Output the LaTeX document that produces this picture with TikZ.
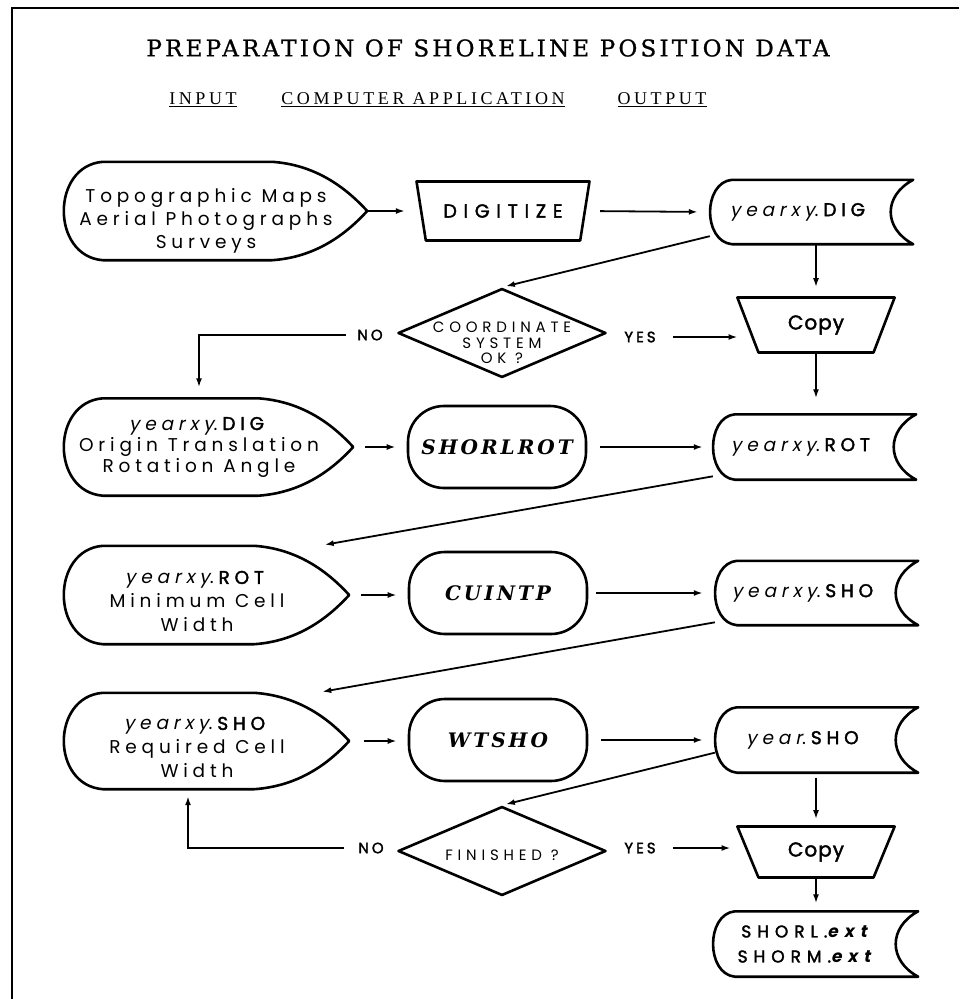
\documentclass[tikz,border=0pt]{standalone}
\usepackage{fontspec}
\setmainfont{Poppins}[AutoFakeSlant=0.2,AutoFakeBold=2]
\newfontfamily\txtfont{Poppins}[LetterSpace=26,AutoFakeSlant=0.2,AutoFakeBold=2]
\newfontfamily\capfont{Poppins}[LetterSpace=35,AutoFakeBold=2]
\newfontfamily\extfont{Poppins}[LetterSpace=35,FakeSlant=0.2]
\newfontfamily\copyfont{Poppins}[LetterSpace=5,AutoFakeBold=2]
\newfontfamily\decfont{Poppins}[LetterSpace=32]
\newfontfamily\ansfont{Poppins}[LetterSpace=20,AutoFakeBold=2]
\newfontfamily\titlefont{DejaVu Serif}[LetterSpace=14,FakeBold=1]
\newfontfamily\headfont{Liberation Serif}[LetterSpace=20]
\newfontfamily\progfont{DejaVu Serif}[LetterSpace=15]
\usetikzlibrary{shapes.geometric,arrows.meta,calc}

\begin{document}
\begin{tikzpicture}[x=1pt,y=-1pt,
  outline/.style={line width=2.6pt,line join=round},
  conn/.style={line width=1.8pt,-{Latex[length=9pt,width=6pt]}},
  inform/.style={minimum width=272,minimum height=97,inner sep=0pt,align=center,
    font=\txtfont\fontsize{18.5}{23}\selectfont},
  outform/.style={minimum width=180,minimum height=64,inner sep=0pt,align=center,
    font=\txtfont\fontsize{18.5}{25}\selectfont},
  program/.style={draw,outline,rounded corners=36pt,minimum width=178,minimum height=82,
    inner sep=0pt,font=\progfont\bfseries\itshape\fontsize{20}{24}\selectfont},
  manual/.style={draw,outline,trapezium,trapezium left angle=118,trapezium right angle=118,
    trapezium stretches=true,inner sep=0pt,font=\capfont\bfseries\fontsize{19}{20}\selectfont},
  decision/.style={draw,outline,diamond,minimum width=208,minimum height=89,inner sep=0pt},
  dectext/.style={align=center,font=\decfont\fontsize{15}{15.5}\selectfont},
  answer/.style={inner sep=3pt,font=\ansfont\bfseries\fontsize{15}{16}\selectfont},
  heading/.style={font=\headfont\fontsize{18}{20}\selectfont}]
%\draw[step=50,gray,very thin] (0,0) grid (959,999);
\useasboundingbox (0,0) rectangle (959,999);
\draw[line width=2pt] (959,8) -- (12,8) -- (12,999);
\node[font=\titlefont\fontsize{23}{26}\selectfont] (title) at (488,48) {PREPARATION OF SHORELINE POSITION DATA};
\node[heading] (hin) at (203,100) {\underline{INPUT}};
\node[heading] (happ) at (423,100) {\underline{COMPUTER APPLICATION}};
\node[heading] (hout) at (662,100) {\underline{OUTPUT}};

\node[inform,minimum width=286,minimum height=98,text height=80pt] (in1) at (206,211) {Topographic Maps\\Aerial Photographs\\Surveys};
\node[manual,minimum width=173,minimum height=59] (digit) at (503,211) {DIGITIZE};
\node[outform] (dig) at (800,212) {{\itshape yearxy}.\textbf{DIG}};
\node[manual,minimum width=158,minimum height=55,font=\copyfont\bfseries\fontsize{20}{20}\selectfont] (copy1) at (816,325) {Copy};
\node[decision,label={[dectext,yshift=-10pt]center:{COORDINATE\\SYSTEM\\OK ?}}] (coord) at (502,333) {};
\node[answer] (no1) at (370,335) {NO};
\node[answer] (yes1) at (640,337) {YES};

\node[inform,font=\txtfont\fontsize{18.5}{21}\selectfont] (in2) at (199,447) {{\itshape yearxy}.\textbf{DIG}\\Origin Translation\\Rotation Angle};
\node[program] (shorlrot) at (497,447) {SHORLROT};
\node[outform,minimum height=65] (rot) at (803,447) {{\itshape yearxy}.\textbf{ROT}};

\node[inform,minimum width=268,minimum height=98,font=\txtfont\fontsize{18.5}{24}\selectfont,text height=74pt] (in3) at (197,595) {{\itshape yearxy}.\textbf{ROT}\\Minimum Cell\\Width};
\node[program] (cuintp) at (498,593) {CUINTP};
\node[outform] (sho) at (805,593) {{\itshape yearxy}.\textbf{SHO}};

\node[inform,minimum width=268,minimum height=96,font=\txtfont\fontsize{18.5}{24}\selectfont,text height=74pt] (in4) at (197,741) {{\itshape yearxy}.\textbf{SHO}\\Required Cell\\Width};
\node[program] (wtsho) at (498,740) {WTSHO};
\node[outform,minimum height=65] (ysho) at (805,740) {{\itshape year}.\textbf{SHO}};
\node[decision,label={[dectext,yshift=-4pt]center:FINISHED ?}] (fin) at (502,851) {};
\node[answer] (no2) at (371,848) {NO};
\node[answer] (yes2) at (640,848) {YES};
\node[manual,minimum width=158,minimum height=51,font=\copyfont\bfseries\fontsize{20}{20}\selectfont] (copy2) at (816,852) {Copy};
\node[outform,minimum width=182,minimum height=65,font=\capfont\bfseries\fontsize{17}{25}\selectfont] (shorl) at (804,944) {SHORL.{\extfont\bfseries ext}\\SHORM.{\extfont\bfseries ext}};

\foreach \n in {in1,in2,in3,in4}
  \draw[outline] ($(\n.north west)+(40,0)$) -- ($(\n.north east)+(-77,0)$)
    .. controls ($(\n.north east)+(-34,3)$) and ($(\n.east)+(-4,-24)$) .. ($(\n.east)+(18,0)$)
    .. controls ($(\n.east)+(-4,24)$) and ($(\n.south east)+(-34,-3)$) .. ($(\n.south east)+(-77,0)$)
    -- ($(\n.south west)+(40,0)$)
    .. controls ($(\n.south west)+(-12,-4)$) and ($(\n.north west)+(-12,4)$) .. cycle;
\foreach \n in {dig,rot,sho,ysho,shorl}
  \draw[outline] ($(\n.north west)+(22,0)$) -- ($(\n.north east)+(23,0)$)
    .. controls ($(\n.north east)+(-7,16)$) and ($(\n.south east)+(-7,-16)$) .. ($(\n.south east)+(23,0)$)
    -- ($(\n.south west)+(22,0)$)
    .. controls ($(\n.south west)+(-7,-3)$) and ($(\n.north west)+(-7,3)$) .. cycle;

\draw[conn,shorten <=18pt,shorten >=15pt] (in1.east) -- (digit.west);
\draw[conn,shorten <=14pt,shorten >=12pt] (digit.east) -- (dig.west);
\draw[conn,shorten >=4pt] (dig.195) -- (coord.north);
\draw[conn,shorten >=9pt] (copy1.north |- dig.south) -- (copy1.north);
\draw[conn,shorten <=8pt,shorten >=11pt] (no1.west) -| (in2.north);
\draw[conn,shorten <=14pt,shorten >=9pt] (yes1.east) -- (yes1.east -| copy1.west);
\draw[conn,shorten >=16pt] (copy1.south) -- (copy1.south |- rot.north);
\draw[conn,shorten <=30pt,shorten >=11pt] (in2.east) -- (shorlrot.west);
\draw[conn,shorten <=13pt,shorten >=10pt] (shorlrot.east) -- (rot.west);
\draw[conn,shorten >=6pt] (rot.198) -- (in3.22);
\draw[conn,shorten <=30pt,shorten >=11pt] (in3.east) -- (in3.east -| cuintp.west);
\draw[conn,shorten <=8pt,shorten >=12pt] (cuintp.east) -- (sho.west);
\draw[conn,shorten >=6pt] (sho.198) -- (in4.22);
\draw[conn,shorten <=33pt,shorten >=11pt] (in4.east) -- (in4.east -| wtsho.west);
\draw[conn,shorten <=13pt,shorten >=12pt] (wtsho.east) -- (ysho.west);
\draw[conn,shorten >=4pt] (ysho.188) -- (fin.north);
\draw[conn,shorten <=11pt,shorten >=7pt] (no2.west) -| ([xshift=-9pt]in4.south);
\draw[conn,shorten <=14pt,shorten >=16pt] (yes2.east) -- (yes2.east -| copy2.west);
\draw[conn,shorten <=5pt,shorten >=6pt] (copy2.north |- ysho.south) -- (copy2.north);
\draw[conn,shorten >=8pt] (copy2.south) -- (copy2.south |- shorl.north);
\end{tikzpicture}
\end{document}
